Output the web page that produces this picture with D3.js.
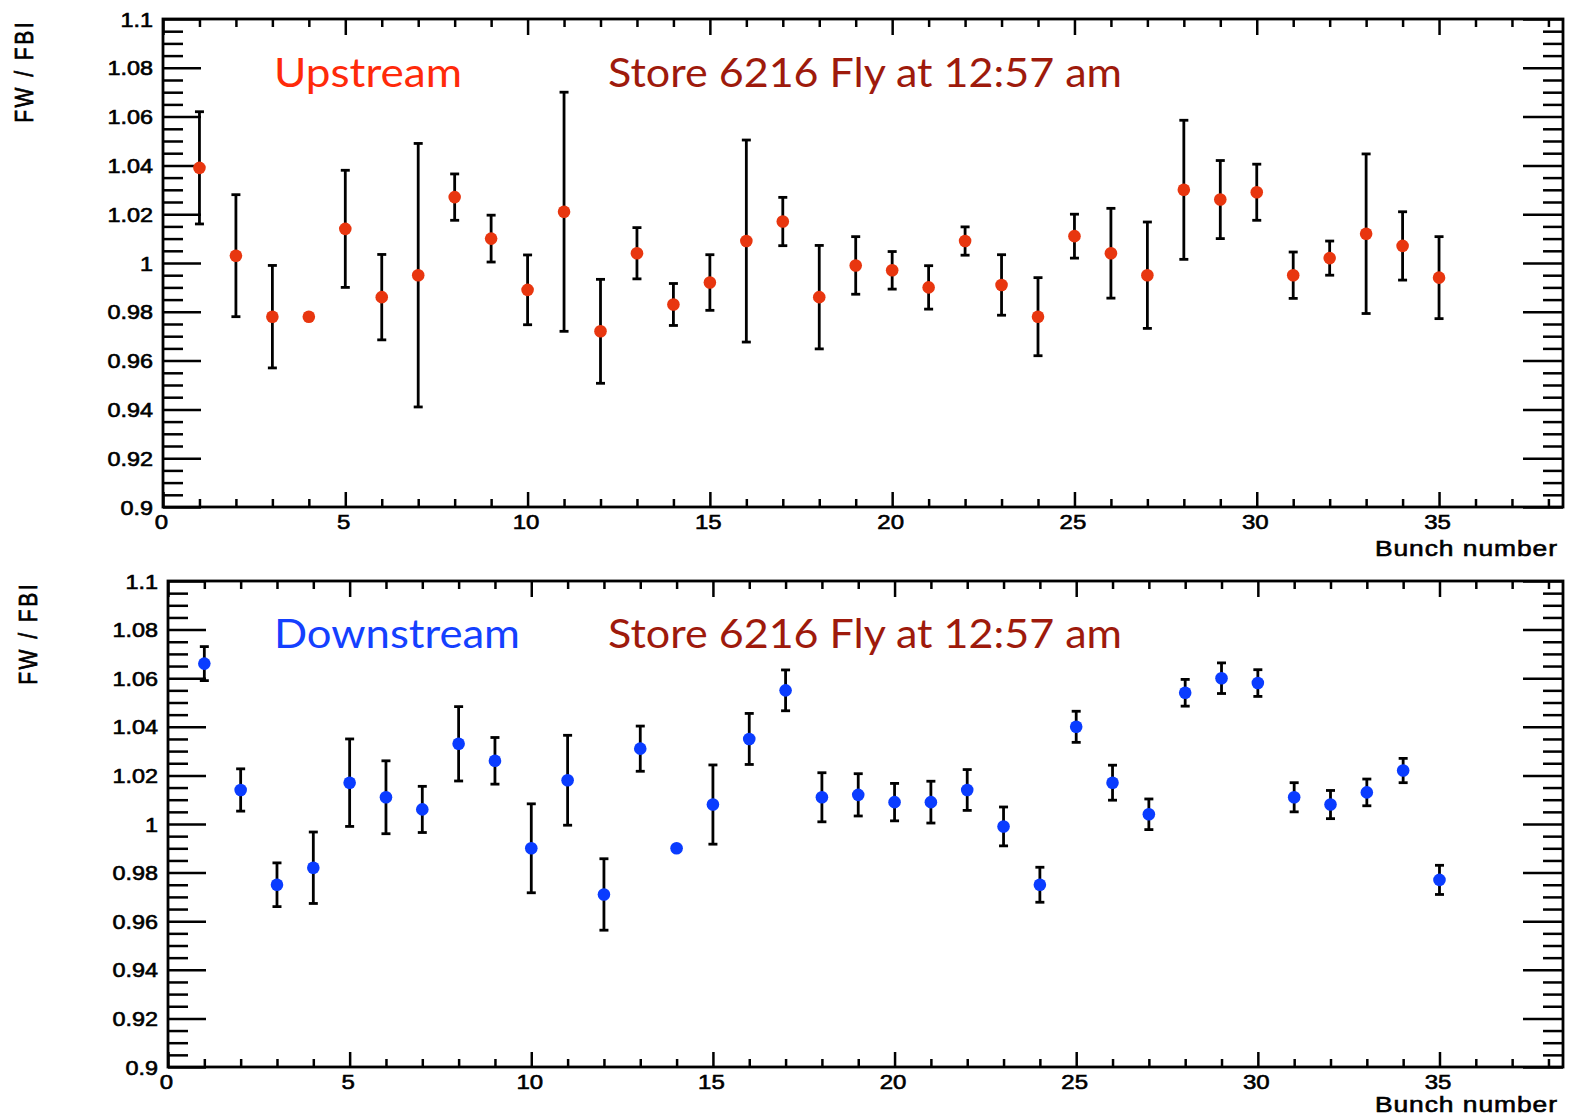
<!DOCTYPE html>
<html>
<head>
<meta charset="utf-8">
<script src="https://cdn.jsdelivr.net/npm/d3@7"></script>
<style>
  body { margin: 0; background: #fff; }
  svg { display: block; }
  .tick text { fill: #000; }
</style>
</head>
<body>
<svg id="chart" width="1574" height="1119"></svg>
<script>
// bunch numbers on the x axis
const bunches = [1, 2, 3, 4, 5, 6, 7, 8, 9, 10, 11, 12, 13, 14, 15, 16, 17, 18,
  19, 20, 21, 22, 23, 24, 25, 26, 27, 28, 29, 30, 31, 32, 33, 34, 35];

// upstream FW / FBI ratio and its error
const upValues = [1.039, 1.003, 0.978, 0.978, 1.014, 0.986, 0.995, 1.027, 1.010, 0.989,
  1.021, 0.972, 1.004, 0.983, 0.992, 1.009, 1.017, 0.986, 0.999, 0.997,
  0.990, 1.009, 0.991, 0.978, 1.011, 1.004, 0.995, 1.030, 1.026, 1.029,
  0.995, 1.002, 1.012, 1.007, 0.994];
const upErrors = [0.023, 0.025, 0.021, 0, 0.024, 0.0175, 0.054, 0.0095, 0.0096, 0.0143,
  0.049, 0.0213, 0.0105, 0.0086, 0.0114, 0.0414, 0.0099, 0.0212, 0.0118, 0.0077,
  0.0089, 0.0058, 0.0124, 0.016, 0.009, 0.0184, 0.0218, 0.0285, 0.016, 0.0115,
  0.0095, 0.007, 0.0327, 0.014, 0.0168];

// downstream FW / FBI ratio and its error
const downValues = [1.066, 1.014, 0.975, 0.982, 1.017, 1.011, 1.006, 1.033, 1.026, 0.990,
  1.018, 0.971, 1.031, 0.990, 1.008, 1.035, 1.055, 1.011, 1.012, 1.009,
  1.009, 1.014, 0.999, 0.975, 1.040, 1.017, 1.004, 1.054, 1.060, 1.058,
  1.011, 1.008, 1.013, 1.022, 0.977];
const downErrors = [0.007, 0.0087, 0.009, 0.0147, 0.018, 0.015, 0.0095, 0.0153, 0.0096, 0.0183,
  0.0185, 0.0147, 0.0093, 0, 0.0163, 0.0105, 0.0084, 0.0101, 0.0087, 0.0077,
  0.0086, 0.0084, 0.008, 0.0072, 0.0064, 0.0072, 0.0063, 0.0055, 0.0063, 0.0055,
  0.006, 0.0058, 0.0055, 0.005, 0.006];

// axis ticks
const xMajorTicks = [0, 5, 10, 15, 20, 25, 30, 35];
const xMinorTicks = [1, 2, 3, 4, 6, 7, 8, 9, 11, 12, 13, 14, 16, 17, 18, 19, 21, 22, 23, 24,
  26, 27, 28, 29, 31, 32, 33, 34, 36, 37, 38];
const yMajorTicks = [0.9, 0.92, 0.94, 0.96, 0.98, 1, 1.02, 1.04, 1.06, 1.08, 1.1];
const yMinorTicks = d3.range(0, 41).map((i) => +(0.9 + i * 0.005).toFixed(3))
  .filter((v) => !yMajorTicks.includes(v));

const yTitle = "FW / FBI";
const xTitle = "Bunch number";
const storeLabel = "Store 6216 Fly at 12:57 am";

const svg = d3.select("#chart");
const AXIS_FONT = "'Liberation Sans', Arial, Helvetica, sans-serif";
const LABEL_FONT = "Lato, 'Open Sans', sans-serif";
const SX = 1.2; // the picture is stretched a bit sideways

const panels = [
  {
    left: 163, right: 1563, top: 19, bottom: 507,
    values: upValues, errors: upErrors,
    marker: "#e8360f",
    name: "Upstream", nameColor: "#ff2a0a", nameLen: 188,
    titleX: 25, xTitleY: 556, nameY: 87
  },
  {
    left: 168, right: 1563, top: 581, bottom: 1067,
    values: downValues, errors: downErrors,
    marker: "#0a3cff",
    name: "Downstream", nameColor: "#1440ff", nameLen: 246,
    titleX: 29, xTitleY: 1112, nameY: 648
  }
];

panels.forEach((p) => {
  const x = d3.scaleLinear().domain([0, 38.4]).range([p.left, p.right]);
  const y = d3.scaleLinear().domain([0.9, 1.1]).range([p.bottom, p.top]);
  const g = svg.append("g");

  // minor ticks first, majors on top
  const styleAxis = (sel) => {
    sel.select(".domain").remove();
    sel.selectAll("line").attr("stroke", "#000").attr("stroke-width", 2.5);
  };

  g.append("g").attr("transform", `translate(${p.left},0)`)
    .call(d3.axisLeft(y).tickValues(yMinorTicks).tickSizeInner(-20).tickSizeOuter(0).tickFormat(""))
    .call(styleAxis);
  g.append("g").attr("transform", `translate(${p.right},0)`)
    .call(d3.axisRight(y).tickValues(yMinorTicks).tickSizeInner(-20).tickSizeOuter(0).tickFormat(""))
    .call(styleAxis);
  g.append("g").attr("transform", `translate(${p.right},0)`)
    .call(d3.axisRight(y).tickValues(yMajorTicks).tickSizeInner(-40).tickSizeOuter(0).tickFormat(""))
    .call(styleAxis);

  const yAxis = g.append("g").attr("transform", `translate(${p.left},0)`)
    .call(d3.axisLeft(y).tickValues(yMajorTicks).tickSizeInner(-38).tickSizeOuter(0)
      .tickPadding(0).tickFormat((d) => String(+d.toFixed(2))))
    .call(styleAxis);
  yAxis.selectAll("text")
    .attr("x", 0)
    .attr("dy", "0.36em")
    .attr("transform", `translate(-10,0) scale(${SX},1)`)
    .style("font-family", AXIS_FONT)
    .style("font-size", "19.5px")
    .style("stroke", "#000")
    .style("stroke-width", 0.6);

  g.append("g").attr("transform", `translate(0,${p.bottom})`)
    .call(d3.axisBottom(x).tickValues(xMinorTicks).tickSizeInner(-8).tickSizeOuter(0).tickFormat(""))
    .call(styleAxis);
  g.append("g").attr("transform", `translate(0,${p.top})`)
    .call(d3.axisTop(x).tickValues(xMinorTicks).tickSizeInner(-8).tickSizeOuter(0).tickFormat(""))
    .call(styleAxis);
  g.append("g").attr("transform", `translate(0,${p.top})`)
    .call(d3.axisTop(x).tickValues(xMajorTicks).tickSizeInner(-16).tickSizeOuter(0).tickFormat(""))
    .call(styleAxis);

  const xAxis = g.append("g").attr("transform", `translate(0,${p.bottom})`)
    .call(d3.axisBottom(x).tickValues(xMajorTicks).tickSizeInner(-15).tickSizeOuter(0)
      .tickPadding(0).tickFormat(d3.format("d")))
    .call(styleAxis);
  xAxis.selectAll("text")
    .attr("y", 0)
    .attr("dy", 0)
    .attr("transform", `translate(-2,22) scale(${SX},1)`)
    .style("font-family", AXIS_FONT)
    .style("font-size", "20px")
    .style("stroke", "#000")
    .style("stroke-width", 0.6);

  // frame
  g.append("rect")
    .attr("x", p.left).attr("y", p.top)
    .attr("width", p.right - p.left).attr("height", p.bottom - p.top)
    .attr("fill", "none").attr("stroke", "#000").attr("stroke-width", 2.8);

  // axis titles
  g.append("text")
    .attr("transform", `translate(${p.titleX + 8},${p.top + 1}) scale(${SX},1) rotate(-90)`)
    .attr("text-anchor", "end")
    .style("font-family", AXIS_FONT)
    .style("font-size", "21px")
    .style("letter-spacing", "2.5px")
    .style("stroke", "#000").style("stroke-width", 0.6)
    .text(yTitle);

  g.append("text")
    .attr("transform", `translate(1558,${p.xTitleY}) scale(${SX},1)`)
    .attr("text-anchor", "end")
    .style("font-family", AXIS_FONT)
    .style("font-size", "22px")
    .style("letter-spacing", "0.8px")
    .style("stroke", "#000").style("stroke-width", 0.6)
    .text(xTitle);

  // error bars
  const pts = bunches.map((b, i) => ({ b, v: p.values[i], e: p.errors[i] }));
  const bars = g.append("g").selectAll("g")
    .data(pts.filter((d) => d.e > 0))
    .join("g")
    .attr("stroke", "#000")
    .attr("stroke-width", 2.8);
  bars.append("line")
    .attr("x1", (d) => x(d.b)).attr("x2", (d) => x(d.b))
    .attr("y1", (d) => y(d.v - d.e)).attr("y2", (d) => y(d.v + d.e));
  bars.append("line")
    .attr("x1", (d) => x(d.b) - 4.5).attr("x2", (d) => x(d.b) + 4.5)
    .attr("y1", (d) => y(d.v + d.e)).attr("y2", (d) => y(d.v + d.e));
  bars.append("line")
    .attr("x1", (d) => x(d.b) - 4.5).attr("x2", (d) => x(d.b) + 4.5)
    .attr("y1", (d) => y(d.v - d.e)).attr("y2", (d) => y(d.v - d.e));

  // markers
  g.append("g").selectAll("circle")
    .data(pts)
    .join("circle")
    .attr("cx", (d) => x(d.b))
    .attr("cy", (d) => y(d.v))
    .attr("r", 6.3)
    .attr("fill", p.marker);

  // overlay labels
  g.append("text")
    .attr("x", 274).attr("y", p.nameY)
    .attr("textLength", p.nameLen).attr("lengthAdjust", "spacingAndGlyphs")
    .style("font-family", LABEL_FONT)
    .style("font-size", "40px")
    .attr("fill", p.nameColor)
    .text(p.name);

  g.append("text")
    .attr("x", 608).attr("y", p.nameY)
    .attr("textLength", 514).attr("lengthAdjust", "spacingAndGlyphs")
    .style("font-family", LABEL_FONT)
    .style("font-size", "40px")
    .attr("fill", "#9e1a0c")
    .text(storeLabel);
});
</script>
</body>
</html>
